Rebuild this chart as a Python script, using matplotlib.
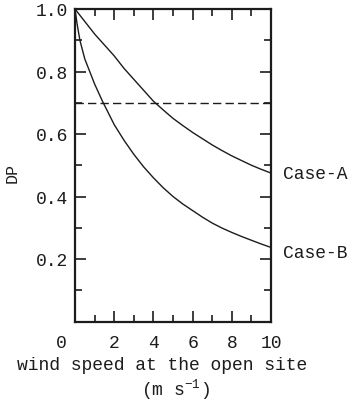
import matplotlib
matplotlib.use("Agg")
import matplotlib.pyplot as plt
from matplotlib.ticker import MultipleLocator
import matplotlib.transforms as mtransforms

plt.rcParams['font.family'] = ['Liberation Mono', 'DejaVu Sans Mono']
plt.rcParams['mathtext.fontset'] = 'custom'
plt.rcParams['mathtext.rm'] = 'Liberation Mono'
plt.rcParams['mathtext.it'] = 'Liberation Mono'

# values
wind_a = [0, 0.5, 1, 1.5, 2, 2.5, 3, 3.5, 4, 4.5, 5, 5.5, 6, 6.5, 7, 7.5, 8, 8.5, 9, 9.5, 10]
dp_a = [1.0, 0.96, 0.92, 0.885, 0.85, 0.81, 0.775, 0.74, 0.705, 0.677, 0.65, 0.627,
        0.605, 0.585, 0.565, 0.547, 0.53, 0.515, 0.5, 0.487, 0.475]

wind_b = [0, 0.1, 0.25, 0.5, 0.75, 1, 1.4, 2, 2.5, 3, 3.5, 4, 4.5, 5, 5.5, 6, 6.5, 7, 7.5, 8, 8.5, 9, 9.5, 10]
dp_b = [1.0, 0.955, 0.9, 0.84, 0.80, 0.76, 0.705, 0.63, 0.58, 0.535, 0.495, 0.46, 0.428, 0.4,
        0.376, 0.355, 0.334, 0.315, 0.299, 0.285, 0.272, 0.26, 0.248, 0.237]

threshold = 0.7
xticks = [0, 2, 4, 6, 8, 10]
yticks = [0.2, 0.4, 0.6, 0.8, 1.0]
ink = '#1c1c1c'

fig = plt.figure(figsize=(3.5, 4.02), dpi=100)
ax = fig.add_axes([75/350, 1 - 322.5/402, 196/350, 312.5/402])

ax.plot(wind_a, dp_a, color=ink, lw=1.0)
ax.plot(wind_b, dp_b, color=ink, lw=1.0)
ax.plot([0, 10], [threshold, threshold], color=ink, lw=1.0, dashes=(6, 3))

ax.set_xlim(0, 10)
ax.set_ylim(0, 1.0)
ax.set_xticks(xticks)
ax.set_yticks(yticks)
ax.xaxis.set_minor_locator(MultipleLocator(1))
ax.yaxis.set_minor_locator(MultipleLocator(0.1))
ax.tick_params(which='both', direction='in', top=True, right=True, width=1.2, colors=ink, labelsize=13)
ax.tick_params(which='major', length=8)
ax.tick_params(which='minor', length=5)
ax.tick_params(axis='x', pad=9)
ax.tick_params(axis='y', pad=5)
for s in ax.spines.values():
    s.set_linewidth(1.6)
    s.set_color(ink)

# the "0" label sits left of its tick in the original
lbl0 = ax.get_xticklabels()[0]
lbl0.set_transform(lbl0.get_transform() + mtransforms.ScaledTranslation(-14/100, 0, fig.dpi_scale_trans))

fig.text(12/350, 1 - 173/402, 'DP', fontsize=12, color=ink, rotation=90, ha='center', va='center')

ax.text(10.6, dp_a[-1], 'Case-A', fontsize=13, color=ink, va='center', ha='left', clip_on=False)
ax.text(10.6, 0.222, 'Case-B', fontsize=13, color=ink, va='center', ha='left', clip_on=False)

fig.text(162/350, 1 - 366/402, 'wind speed at the open site', fontsize=13, color=ink, ha='center', va='center')
fig.text(175/350, 1 - 390/402, '(m s$^{-1}$)', fontsize=13, color=ink, ha='center', va='center')

fig.savefig('out.png', dpi=100)
